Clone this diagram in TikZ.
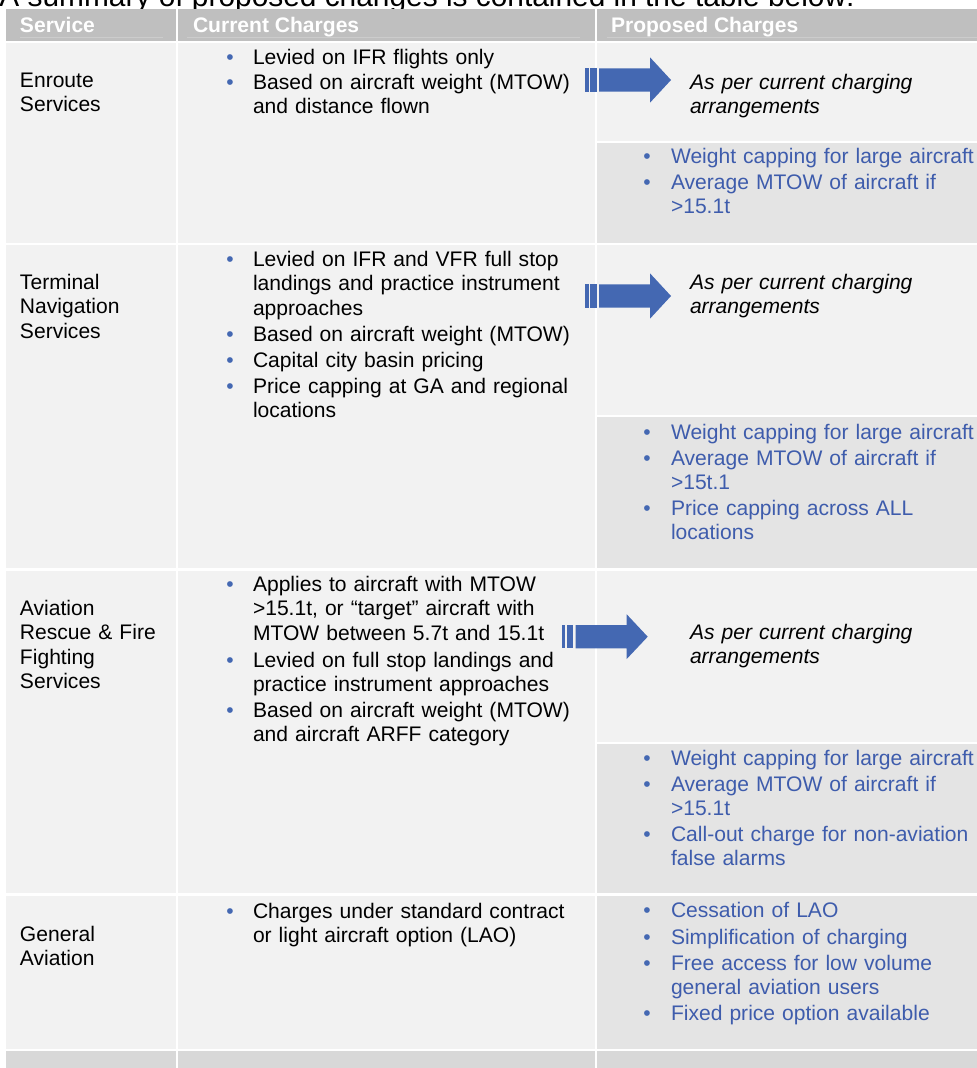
\documentclass[tikz,border=0pt]{standalone}
\usepackage{fontspec}
\setmainfont{Liberation Sans}

\definecolor{cellLight}{RGB}{242,242,242}
\definecolor{cellDark}{RGB}{228,228,228}
\definecolor{headGray}{RGB}{191,191,191}
\definecolor{footGray}{RGB}{216,216,216}
\definecolor{ruleGray}{RGB}{204,204,204}
\definecolor{arrowBlue}{RGB}{68,104,178}
\definecolor{textBlue}{RGB}{62,92,172}

\tikzset{every picture/.style={line width=0.75pt}}
\tikzset{
  celltext/.style={anchor=base west, inner sep=0pt, outer sep=0pt,
    font=\fontsize{15.8}{18.4}\selectfont, text width=300pt, align=left},
  headtext/.style={anchor=base west, inner sep=0pt, outer sep=0pt,
    font=\fontsize{15.8}{18.4}\selectfont\bfseries, text=white},
  proptext/.style={celltext, text=textBlue},
  sametext/.style={celltext, font=\fontsize{15.8}{18.4}\selectfont\itshape},
  bul/.style={anchor=base, inner sep=0pt, outer sep=0pt,
    font=\fontsize{15.8}{18.4}\selectfont, text=arrowBlue},
}

\begin{document}
\begin{tikzpicture}[x=0.75pt,y=0.75pt,yscale=-1,xscale=1]
	\useasboundingbox (0,0) rectangle (977,1068);
	\clip (0,0) rectangle (977,1068);

	% Text Node
	\node[anchor=base west, inner sep=0pt, font=\fontsize{22.4}{26}\selectfont] (title) at (-1,6) {A summary of proposed changes is contained in the table below:};

	%Shape: Rectangle (header row)
	\fill[headGray] (6,9) rectangle (176,41);
	\fill[headGray] (178,9) rectangle (595,41);
	\fill[headGray] (597,9) rectangle (977,41);
	\draw[ruleGray] (20,37.5) -- (163,37.5);
	\draw[ruleGray] (187,37.5) -- (580,37.5);
	\draw[ruleGray] (607,37.5) -- (977,37.5);

	%Shape: Rectangle (enroute row)
	\fill[cellLight] (6,43) rectangle (176,243);
	\fill[cellLight] (178,43) rectangle (595,243);
	\fill[cellLight] (597,43) rectangle (977,141);
	\fill[cellDark] (597,143) rectangle (977,243);
	%Shape: Rectangle (terminal row)
	\fill[cellLight] (6,245) rectangle (176,568);
	\fill[cellLight] (178,245) rectangle (595,568);
	\fill[cellLight] (597,245) rectangle (977,415);
	\fill[cellDark] (597,417) rectangle (977,568);
	%Shape: Rectangle (arff row)
	\fill[cellLight] (6,571) rectangle (176,893);
	\fill[cellLight] (178,571) rectangle (595,893);
	\fill[cellLight] (597,571) rectangle (977,742);
	\fill[cellDark] (597,744) rectangle (977,893);
	%Shape: Rectangle (general aviation row)
	\fill[cellLight] (6,896) rectangle (176,1049);
	\fill[cellLight] (178,896) rectangle (595,1049);
	\fill[cellDark] (597,896) rectangle (977,1049);
	%Shape: Rectangle (last row)
	\fill[footGray] (6,1051) rectangle (176,1070);
	\fill[footGray] (178,1051) rectangle (595,1070);
	\fill[footGray] (597,1051) rectangle (977,1070);

	%Shape: Right Arrow (enroute)
	\fill[arrowBlue] (585,68.3) rectangle (588.5,91.7);
	\fill[arrowBlue] (590,68.3) rectangle (596.5,91.7);
	\fill[arrowBlue] (599,68.3) -- (650,68.3) -- (650,57.3) -- (671,80) -- (650,102.7) -- (650,91.7) -- (599,91.7) -- cycle;
	%Shape: Right Arrow (terminal)
	\fill[arrowBlue] (585,284.3) rectangle (588.5,307.7);
	\fill[arrowBlue] (590,284.3) rectangle (596.5,307.7);
	\fill[arrowBlue] (599,284.3) -- (650,284.3) -- (650,273.3) -- (671,296) -- (650,318.7) -- (650,307.7) -- (599,307.7) -- cycle;
	%Shape: Right Arrow (arff)
	\fill[arrowBlue] (561.7,625) rectangle (565,648.3);
	\fill[arrowBlue] (566.7,625) rectangle (572.7,648.3);
	\fill[arrowBlue] (575.7,625) -- (626.7,625) -- (626.7,614.3) -- (647.7,636.7) -- (626.7,659) -- (626.7,648.3) -- (575.7,648.3) -- cycle;

	% Text Node
	\node[headtext] (hService) at (20,32) {Service};
	% Text Node
	\node[headtext] (hCurrent) at (193,32) {Current Charges};
	% Text Node
	\node[headtext] (hProposed) at (611,32) {Proposed Charges};

	% Text Node
	\node[celltext] (sEnroute) at (20,87) {Enroute\\Services};
	% Text Node
	\node[celltext] (sTerminal) at (20,289) {Terminal\\Navigation\\Services};
	% Text Node
	\node[celltext] (sArff) at (20,615) {Aviation\\Rescue \& Fire\\Fighting\\Services};
	% Text Node
	\node[celltext] (sGeneral) at (20,941) {General\\Aviation};

	% Text Node
	\node[bul] (cb1) at (230,64) {•};
	\node[celltext] (c1) at (253,64) {Levied on IFR flights only};
	\node[bul] (cb2) at (230,89) {•};
	\node[celltext] (c2) at (253,89) {Based on aircraft weight (MTOW)\\and distance flown};

	% Text Node
	\node[bul] (cb3) at (230,266) {•};
	\node[celltext] (c3) at (253,266) {Levied on IFR and VFR full stop\\landings and practice instrument\\approaches};
	\node[bul] (cb4) at (230,341) {•};
	\node[celltext] (c4) at (253,341) {Based on aircraft weight (MTOW)};
	\node[bul] (cb5) at (230,367) {•};
	\node[celltext] (c5) at (253,367) {Capital city basin pricing};
	\node[bul] (cb6) at (230,393) {•};
	\node[celltext] (c6) at (253,393) {Price capping at GA and regional\\locations};

	% Text Node
	\node[bul] (cb7) at (230,591) {•};
	\node[celltext] (c7) at (253,591) {Applies to aircraft with MTOW\\>15.1t, or “target” aircraft with\\MTOW between 5.7t and 15.1t};
	\node[bul] (cb8) at (230,667) {•};
	\node[celltext] (c8) at (253,667) {Levied on full stop landings and\\practice instrument approaches};
	\node[bul] (cb9) at (230,717) {•};
	\node[celltext] (c9) at (253,717) {Based on aircraft weight (MTOW)\\and aircraft ARFF category};

	% Text Node
	\node[bul] (cb10) at (230,918) {•};
	\node[celltext] (c10) at (253,918) {Charges under standard contract\\or light aircraft option (LAO)};

	% Text Node
	\node[sametext] (pSame1) at (690,89) {As per current charging\\arrangements};
	\node[sametext] (pSame2) at (690,289) {As per current charging\\arrangements};
	\node[sametext] (pSame3) at (690,639) {As per current charging\\arrangements};

	% Text Node
	\node[bul] (pb1) at (647,163) {•};
	\node[proptext] (p1) at (671,163) {Weight capping for large aircraft};
	\node[bul] (pb2) at (647,189) {•};
	\node[proptext] (p2) at (671,189) {Average MTOW of aircraft if\\>15.1t};

	% Text Node
	\node[bul] (pb3) at (647,439) {•};
	\node[proptext] (p3) at (671,439) {Weight capping for large aircraft};
	\node[bul] (pb4) at (647,465) {•};
	\node[proptext] (p4) at (671,465) {Average MTOW of aircraft if\\>15t.1};
	\node[bul] (pb5) at (647,515) {•};
	\node[proptext] (p5) at (671,515) {Price capping across ALL\\locations};

	% Text Node
	\node[bul] (pb6) at (647,765) {•};
	\node[proptext] (p6) at (671,765) {Weight capping for large aircraft};
	\node[bul] (pb7) at (647,791) {•};
	\node[proptext] (p7) at (671,791) {Average MTOW of aircraft if\\>15.1t};
	\node[bul] (pb8) at (647,841) {•};
	\node[proptext] (p8) at (671,841) {Call-out charge for non-aviation\\false alarms};

	% Text Node
	\node[bul] (pb9) at (647,917) {•};
	\node[proptext] (p9) at (671,917) {Cessation of LAO};
	\node[bul] (pb10) at (647,944) {•};
	\node[proptext] (p10) at (671,944) {Simplification of charging};
	\node[bul] (pb11) at (647,970) {•};
	\node[proptext] (p11) at (671,970) {Free access for low volume\\general aviation users};
	\node[bul] (pb12) at (647,1020) {•};
	\node[proptext] (p12) at (671,1020) {Fixed price option available};

\end{tikzpicture}
\end{document}
